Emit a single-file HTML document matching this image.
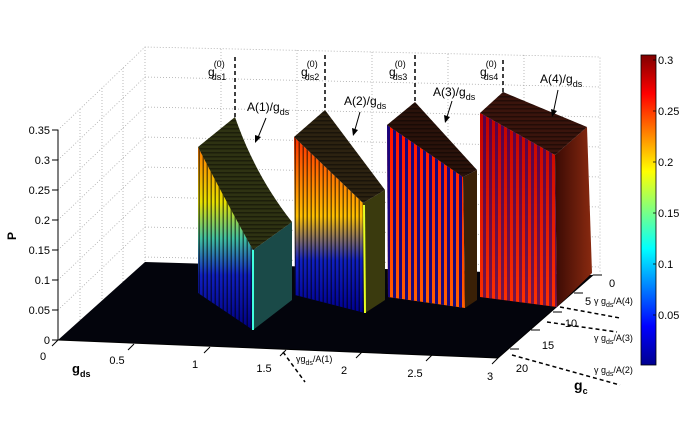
<!DOCTYPE html>
<html><head><meta charset="utf-8"><style>
body{margin:0;background:#fff}
svg{display:block;font-family:"Liberation Sans",sans-serif}
</style></head><body>
<svg width="693" height="430" viewBox="0 0 693 430" xmlns="http://www.w3.org/2000/svg">
<defs>
<pattern id="st" width="4" height="10" patternUnits="userSpaceOnUse"><rect x="2.5" width="1.5" height="10" fill="#000" opacity="0.55"/></pattern>
<pattern id="st2" width="6" height="10" patternUnits="userSpaceOnUse"><rect x="3" width="3" height="10" fill="#00008a" opacity="0.9"/></pattern>
<pattern id="tp" width="4" height="4" patternUnits="userSpaceOnUse"><rect width="4" height="1.5" fill="#000" opacity="0.4"/></pattern>
<linearGradient id="g1" x1="0" y1="0" x2="0" y2="1"><stop offset="0" stop-color="#ff7a00"/><stop offset="0.3" stop-color="#e8e000"/><stop offset="0.5" stop-color="#40c0a0"/><stop offset="0.7" stop-color="#1020c0"/><stop offset="1" stop-color="#000080"/></linearGradient>
<linearGradient id="g2" x1="0" y1="0" x2="0" y2="1"><stop offset="0" stop-color="#ff3000"/><stop offset="0.45" stop-color="#ffc000"/><stop offset="0.7" stop-color="#1020c0"/><stop offset="1" stop-color="#000090"/></linearGradient>
<linearGradient id="g3" x1="0" y1="0" x2="0" y2="1"><stop offset="0" stop-color="#ff1000"/><stop offset="1" stop-color="#ff6000"/></linearGradient>
<linearGradient id="g4" x1="0" y1="0" x2="0" y2="1"><stop offset="0" stop-color="#c00000"/><stop offset="1" stop-color="#ff3000"/></linearGradient>
<linearGradient id="r4" x1="0" y1="0" x2="1" y2="0"><stop offset="0" stop-color="#3a0a04"/><stop offset="1" stop-color="#8a2a10"/></linearGradient>
<linearGradient id="cb" x1="0" y1="1" x2="0" y2="0"><stop offset="0" stop-color="#00008f"/><stop offset="0.125" stop-color="#0000ff"/><stop offset="0.375" stop-color="#00ffff"/><stop offset="0.625" stop-color="#ffff00"/><stop offset="0.875" stop-color="#ff0000"/><stop offset="1" stop-color="#800000"/></linearGradient>
</defs>
<!-- grid -->
<g stroke="#aaa" stroke-width="0.8" stroke-dasharray="1,2" fill="none">
<path d="M58 130 L145 47 L600 57 L600 272"/>
<path d="M145 47 L145 262"/>
<path d="M145 77 L600 87 M145 107 L600 117 M145 137 L600 147 M145 167 L600 177 M145 197 L600 207 M145 227 L600 237 M145 257 L600 267"/>
<path d="M58 160 L145 77 M58 190 L145 107 M58 220 L145 137 M58 250 L145 167 M58 280 L145 197 M58 310 L145 227"/>
<path d="M221 49 V264 M297 50 V266 M372 52 V267 M448 54 V269 M524 55 V271"/>
<path d="M80 109 V321 M102 88 V301 M123 68 V282"/>
</g>
<!-- floor -->
<polygon points="58,340 145,262 593,275 498,358" fill="#03040c"/>
<!-- axes -->
<g stroke="#000" stroke-width="1" fill="none">
<path d="M58 130 V340"/>
<path d="M52 130 H58 M52 160 H58 M52 190 H58 M52 220 H58 M52 250 H58 M52 280 H58 M52 310 H58 M52 340 H58"/>
<path d="M58 340 L498 358 L593 275"/>
<path d="M58 340 L52 346 M134 344 L128 350 M210 347 L204 353 M286 350 L280 356 M362 352 L356 358 M432 355 L426 361 M498 358 L492 364"/>
<path d="M593 275 H602 M574 293 H583 M553 312 H562 M531 330 H540 M510 349 H519"/>
</g>
<g font-size="11" fill="#000" text-anchor="end">
<text x="50" y="134">0.35</text><text x="50" y="164">0.3</text><text x="50" y="194">0.25</text><text x="50" y="224">0.2</text><text x="50" y="254">0.15</text><text x="50" y="284">0.1</text><text x="50" y="314">0.05</text><text x="50" y="344">0</text>
</g>
<g font-size="11" fill="#000" text-anchor="middle">
<text x="43" y="360">0</text><text x="117" y="364">0.5</text><text x="195" y="368">1</text><text x="264" y="372">1.5</text><text x="344" y="374">2</text><text x="415" y="377">2.5</text><text x="490" y="380">3</text>
<text x="612" y="287">0</text><text x="588" y="305">5</text><text x="571" y="327">10</text><text x="548" y="349">15</text><text x="522" y="372">20</text>
</g>
<text x="72" y="373" font-size="13" font-weight="bold">g<tspan font-size="9" dy="4">ds</tspan></text>
<text x="574" y="390" font-size="14" font-weight="bold">g<tspan font-size="9" dy="4">c</tspan></text>
<text x="16" y="240" font-size="12" font-weight="bold" transform="rotate(-90 16 240)">P</text>
<!-- block1 -->
<polygon points="198,147 253,250 253,330 198,293" fill="url(#g1)"/><polygon points="198,147 253,250 253,330 198,293" fill="url(#st)"/>
<polygon points="253,250 292,222 292,300 253,330" fill="#1a4a48"/>
<path d="M198,147 L235,117 Q255,175 292,222 L253,250 Q220,190 198,147 Z" fill="#2e3212"/>
<path d="M198,147 L235,117 Q255,175 292,222 L253,250 Q220,190 198,147 Z" fill="url(#tp)"/>
<line x1="253" y1="250" x2="253" y2="330" stroke="#40ffe0" stroke-width="2"/>
<!-- block2 -->
<polygon points="294,137 363,203 365,313 295,295" fill="url(#g2)"/><polygon points="294,137 363,203 365,313 295,295" fill="url(#st)"/>
<polygon points="363,203 385,190 385,300 365,313" fill="#3a3a0e"/>
<polygon points="294,137 325,110 385,190 363,203" fill="#2c2210"/>
<polygon points="294,137 325,110 385,190 363,203" fill="url(#tp)"/>
<line x1="364" y1="205" x2="365" y2="313" stroke="#e8ff20" stroke-width="2"/>
<!-- block3 -->
<polygon points="387,125 463,177 465,308 388,297" fill="url(#g3)"/><polygon points="387,125 463,177 465,308 388,297" fill="url(#st2)"/>
<polygon points="463,177 477,170 477,300 465,308" fill="#3a2006"/>
<polygon points="387,125 415,102 477,170 463,177" fill="#2a120a"/>
<polygon points="387,125 415,102 477,170 463,177" fill="url(#tp)"/>
<!-- block4 -->
<polygon points="480,113 555,155 557,307 480,297" fill="url(#g4)"/><polygon points="480,113 555,155 557,307 480,297" fill="url(#st2)" opacity="0.6"/>
<polygon points="555,155 587,127 592,273 557,307" fill="url(#r4)"/>
<polygon points="480,113 503,92 587,127 555,155" fill="#3a140c"/>
<polygon points="480,113 503,92 587,127 555,155" fill="url(#tp)"/>
<!-- dashed -->
<g stroke="#000" stroke-width="1.5" stroke-dasharray="4,3" fill="none">
<path d="M235 57 V117 M325 55 V110 M415 55 V102 M503 60 V92"/>
<path d="M283 352 L305 382"/>
<path d="M560 307 L620 318 M547 322 L617 332 M512 355 L620 385"/>
</g>
<g font-size="12" fill="#000">
<text x="208" y="76">g<tspan font-size="9" dx="-1" dy="-9">(0)</tspan><tspan font-size="9" dx="-13" dy="13">ds1</tspan></text>
<text x="301" y="76">g<tspan font-size="9" dx="-1" dy="-9">(0)</tspan><tspan font-size="9" dx="-13" dy="13">ds2</tspan></text>
<text x="389" y="76">g<tspan font-size="9" dx="-1" dy="-9">(0)</tspan><tspan font-size="9" dx="-13" dy="13">ds3</tspan></text>
<text x="480" y="76">g<tspan font-size="9" dx="-1" dy="-9">(0)</tspan><tspan font-size="9" dx="-13" dy="13">ds4</tspan></text>
<text x="247" y="111">A(1)/g<tspan font-size="9" dy="4">ds</tspan></text>
<text x="344" y="105">A(2)/g<tspan font-size="9" dy="4">ds</tspan></text>
<text x="433" y="96">A(3)/g<tspan font-size="9" dy="4">ds</tspan></text>
<text x="540" y="83">A(4)/g<tspan font-size="9" dy="4">ds</tspan></text>
</g>
<g font-size="9" fill="#000">
<text x="296" y="362">γg<tspan font-size="7" dy="3">ds</tspan><tspan dy="-3">/A(1)</tspan></text>
<text x="594" y="304">γ g<tspan font-size="7" dy="3">ds</tspan><tspan dy="-3">/A(4)</tspan></text>
<text x="594" y="341">γ g<tspan font-size="7" dy="3">ds</tspan><tspan dy="-3">/A(3)</tspan></text>
<text x="594" y="373">γ g<tspan font-size="7" dy="3">ds</tspan><tspan dy="-3">/A(2)</tspan></text>
</g>
<g stroke="#000" stroke-width="1">
<path d="M266 118 L257 140 M360 112 L354 133 M452 101 L446 120 M558 90 L553 114"/>
</g>
<g fill="#000"><polygon points="255,143 255,135 261,137"/><polygon points="353,136 352,128 358,130"/><polygon points="445,123 444,115 450,117"/><polygon points="552,117 551,109 557,111"/></g>
<!-- colorbar -->
<rect x="641" y="55" width="15" height="310" fill="url(#cb)" stroke="#000" stroke-width="0.8"/>
<g stroke="#000" stroke-width="0.8"><path d="M653 60 H656 M653 111 H656 M653 162 H656 M653 213 H656 M653 264 H656 M653 315 H656"/></g>
<g font-size="11" fill="#000">
<text x="658" y="64">0.3</text><text x="658" y="115">0.25</text><text x="658" y="166">0.2</text><text x="658" y="217">0.15</text><text x="658" y="268">0.1</text><text x="658" y="319">0.05</text>
</g>
</svg>
</body></html>
